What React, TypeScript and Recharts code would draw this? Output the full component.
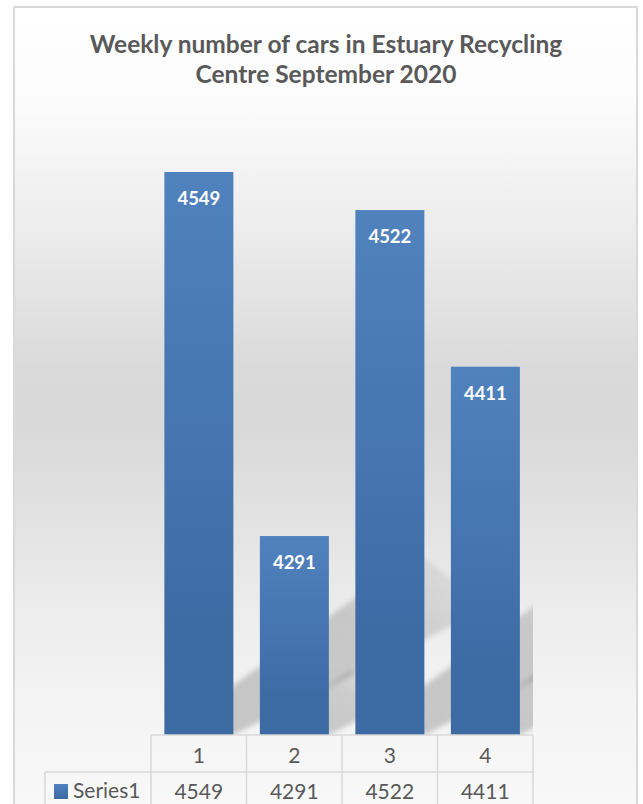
import React from 'react';
import { BarChart, Bar, XAxis, YAxis, LabelList } from 'recharts';

const CATEGORIES = ['1', '2', '3', '4'];
const VALUES = [4549, 4291, 4522, 4411];
const SERIES_NAME = 'Series1';
const TITLE_LINES = ['Weekly number of cars in Estuary Recycling', 'Centre September 2020'];
const Y_DOMAIN: [number, number] = [4150, 4600];

const data = CATEGORIES.map((c, i) => ({ week: c, value: VALUES[i] }));

const W = 643;
const H = 804;
const AXIS_H = 69;
const MARGIN = { top: 100, right: 110, bottom: 0, left: 151 };
const PLOT_LEFT = MARGIN.left;
const PLOT_RIGHT = W - MARGIN.right;
const PLOT_BOTTOM = H - AXIS_H;
const BAND = (PLOT_RIGHT - PLOT_LEFT) / CATEGORIES.length;
const GRID = '#d9d9d9';
const TEXT = '#595959';
const FONT = 'Lato, "Open Sans", sans-serif';

function Defs() {
  return (
    <defs>
      <linearGradient id="barGrad" x1="0" y1="0" x2="0" y2="1">
        <stop offset="0" stopColor="#5082be" />
        <stop offset="0.5" stopColor="#4574b0" />
        <stop offset="0.8" stopColor="#3d6ba4" />
        <stop offset="1" stopColor="#3c6aa3" />
      </linearGradient>
      <linearGradient id="legGrad" x1="0" y1="0" x2="0" y2="1">
        <stop offset="0" stopColor="#5082be" />
        <stop offset="1" stopColor="#3c6aa3" />
      </linearGradient>
      <linearGradient id="shadowGrad" x1="0" y1="1" x2="1" y2="0">
        <stop offset="0" stopColor="#000" stopOpacity="0.2" />
        <stop offset="0.6" stopColor="#000" stopOpacity="0.16" />
        <stop offset="1" stopColor="#000" stopOpacity="0.03" />
      </linearGradient>
      <filter id="shadowBlur" x="-20%" y="-20%" width="140%" height="140%">
        <feGaussianBlur stdDeviation="2.5" />
      </filter>
      <clipPath id="plotClip">
        <rect x={PLOT_LEFT} y={0} width={PLOT_RIGHT - PLOT_LEFT} height={PLOT_BOTTOM} />
      </clipPath>
    </defs>
  );
}

function ShadowBar(props: any) {
  const { x, y, width, height } = props;
  const b = y + height;
  const L = height * 0.45;
  const pts = `${x},${b} ${x + width},${b} ${x + width + L},${b - 0.5 * L} ${x + L},${b - 0.72 * L}`;
  return (
    <g>
      <Defs />
      <g clipPath="url(#plotClip)">
        <polygon points={pts} fill="url(#shadowGrad)" filter="url(#shadowBlur)" />
      </g>
      <rect x={x} y={y} width={width} height={height} fill="url(#barGrad)" />
    </g>
  );
}

function TableTick(props: any) {
  const { x, payload, index } = props;
  const y = PLOT_BOTTOM;
  const half = BAND / 2;
  const rowSplit = y + 37;
  return (
    <g>
      {index === 0 && (
        <g>
          <line x1={x - half} y1={y} x2={x - half} y2={H} stroke={GRID} strokeWidth={1.5} />
          <line x1={45} y1={rowSplit} x2={PLOT_RIGHT} y2={rowSplit} stroke={GRID} strokeWidth={1.5} />
          <line x1={45} y1={rowSplit} x2={45} y2={H} stroke={GRID} strokeWidth={1.5} />
          <rect x={54} y={784} width={14} height={15} fill="url(#legGrad)" />
          <text x={73} y={798} fontFamily={FONT} fontSize={21} fill={TEXT}>
            {SERIES_NAME}
          </text>
        </g>
      )}
      <line x1={x + half} y1={y} x2={x + half} y2={H} stroke={GRID} strokeWidth={1.5} />
      <text x={x} y={y + 28} textAnchor="middle" fontFamily={FONT} fontSize={21} fill={TEXT}>
        {payload.value}
      </text>
      <text x={x} y={y + 64} textAnchor="middle" fontFamily={FONT} fontSize={21} fill={TEXT}>
        {VALUES[index]}
      </text>
    </g>
  );
}

function DataLabel(props: any) {
  const { x, y, width, value } = props;
  return (
    <text
      x={x + width / 2}
      y={y + 33}
      textAnchor="middle"
      fontFamily={FONT}
      fontWeight="bold"
      fontSize={18.5}
      fill="#ffffff"
    >
      {value}
    </text>
  );
}

export default function App() {
  return (
    <div style={{ position: 'absolute', left: 0, top: 0, width: W, height: H, overflow: 'hidden' }}>
      <div
        style={{
          position: 'absolute',
          left: 13,
          top: 6,
          width: 625,
          height: 830,
          boxSizing: 'border-box',
          border: `2px solid ${GRID}`,
          background:
            'linear-gradient(to bottom, #ffffff 0px, #fcfcfc 90px, #ebebeb 230px, #dadada 360px, #d9d9d9 420px, #e2e2e2 510px, #ececec 600px, #f4f4f4 700px, #f9f9f9 820px)',
        }}
      />
      <svg style={{ position: 'absolute', left: 0, top: 0 }} width={W} height={120}>
        {TITLE_LINES.map((t, i) => (
          <text
            key={i}
            x={326}
            y={53 + i * 30}
            textAnchor="middle"
            fontFamily={FONT}
            fontWeight="bold"
            fontSize={24.5}
            fill={TEXT}
          >
            {t}
          </text>
        ))}
      </svg>
      <div style={{ position: 'absolute', left: 0, top: 0 }}>
        <BarChart width={W} height={H} data={data} margin={MARGIN} barCategoryGap="14%">
          <XAxis
            dataKey="week"
            height={AXIS_H}
            interval={0}
            tickLine={false}
            tickSize={0}
            tickMargin={0}
            axisLine={{ stroke: GRID, strokeWidth: 1.5 }}
            tick={<TableTick />}
          />
          <YAxis hide domain={Y_DOMAIN} allowDataOverflow />
          <Bar dataKey="value" isAnimationActive={false} shape={<ShadowBar />}>
            <LabelList dataKey="value" content={<DataLabel />} />
          </Bar>
        </BarChart>
      </div>
    </div>
  );
}
